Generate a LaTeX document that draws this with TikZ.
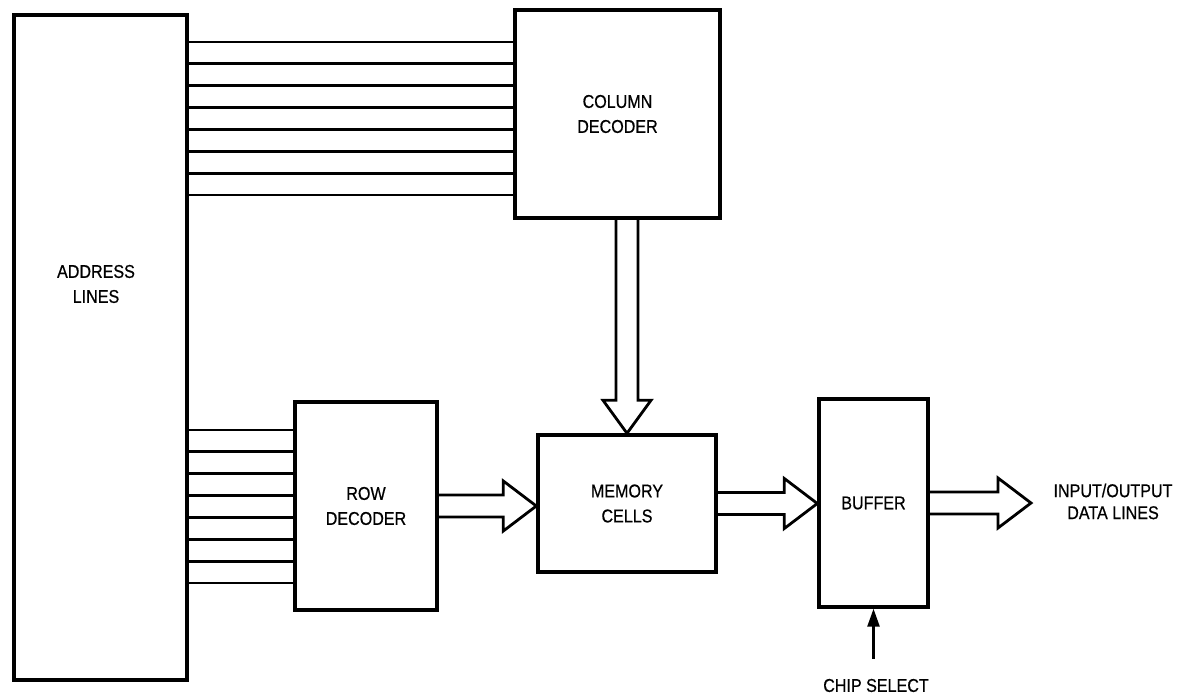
\documentclass[tikz,border=0pt]{standalone}
\usepackage{fontspec}
\setmainfont{Liberation Sans}[FakeStretch=0.87,FakeBold=0.6]
\usetikzlibrary{arrows.meta,calc}

\begin{document}
\begin{tikzpicture}[x=1pt,y=-1pt,
    box/.style={draw, line width=3.4pt, inner sep=0pt, align=center,
        font=\fontsize{18.5}{25}\selectfont},
    lbl/.style={inner sep=0pt, align=center, font=\fontsize{18.5}{25}\selectfont},
    bus/.style={line width=2.8pt},
    fat/.style={line width=2.8pt, miter limit=20},
    fatright/.style={to path={
        let \p1=(\tikztostart), \p2=(\tikztotarget) in
        (\x1,\y1+11pt) -- (\x2-33pt,\y1+11pt) -- (\x2-33pt,\y1+25pt) -- (\x2,\y1)
        -- (\x2-33pt,\y1-25pt) -- (\x2-33pt,\y1-11pt) -- (\x1,\y1-11pt)}},
    fatdown/.style={to path={
        let \p1=(\tikztostart), \p2=(\tikztotarget) in
        (\x1-11pt,\y1) -- (\x1-11pt,\y2+33pt) -- (\x1-24pt,\y2+33pt) -- (\x1,\y2)
        -- (\x1+24pt,\y2+33pt) -- (\x1+11pt,\y2+33pt) -- (\x1+11pt,\y1)}},
    sig/.style={line width=2.6pt, -{Triangle[length=18pt,width=12pt]}}]
    \useasboundingbox (0,0) rectangle (1183,695);

    % blocks
    \node[box, minimum width=173pt, minimum height=665pt] (addr) at (100.5,347.5) {};
    \node[lbl] (addrtxt) at (96,284) {ADDRESS\\LINES};
    \node[box, minimum width=205pt, minimum height=208pt] (coldec) at (617.5,114) {COLUMN\\DECODER};
    \node[box, minimum width=142pt, minimum height=208pt] (rowdec) at (366,506) {ROW\\DECODER};
    \node[box, minimum width=178pt, minimum height=137pt] (mem) at (627,503.5) {MEMORY\\CELLS};
    \node[box, minimum width=109pt, minimum height=208pt] (buf) at (873.5,503) {BUFFER};
    \node[lbl, font=\fontsize{18.5}{22}\selectfont] (io) at (1113,501.5) {INPUT/OUTPUT\\DATA LINES};
    \node[lbl] (cs) at (876,685.5) {CHIP SELECT};
    \coordinate (iotip) at (1031,502);

    % address buses
    \foreach \i in {0,...,7} {
        \pgfmathsetmacro\yy{42+21.86*\i}
        \draw[bus] (addr.east |- 0,\yy) -- (coldec.west |- 0,\yy);
        \pgfmathsetmacro\yy{430+21.86*\i}
        \draw[bus] (addr.east |- 0,\yy) -- (rowdec.west |- 0,\yy);
    }

    % data paths
    \draw[fat] (coldec.south -| mem.north) to[fatdown] (mem.north);
    \draw[fat] (rowdec.east) to[fatright] (mem.west |- rowdec.east);
    \draw[fat] (mem.east) to[fatright] (buf.west |- mem.east);
    \draw[fat] (buf.east) to[fatright] (iotip);

    % chip select
    \draw[sig] ([yshift=20pt]cs.north -| buf.south) -- (buf.south);
\end{tikzpicture}
\end{document}
